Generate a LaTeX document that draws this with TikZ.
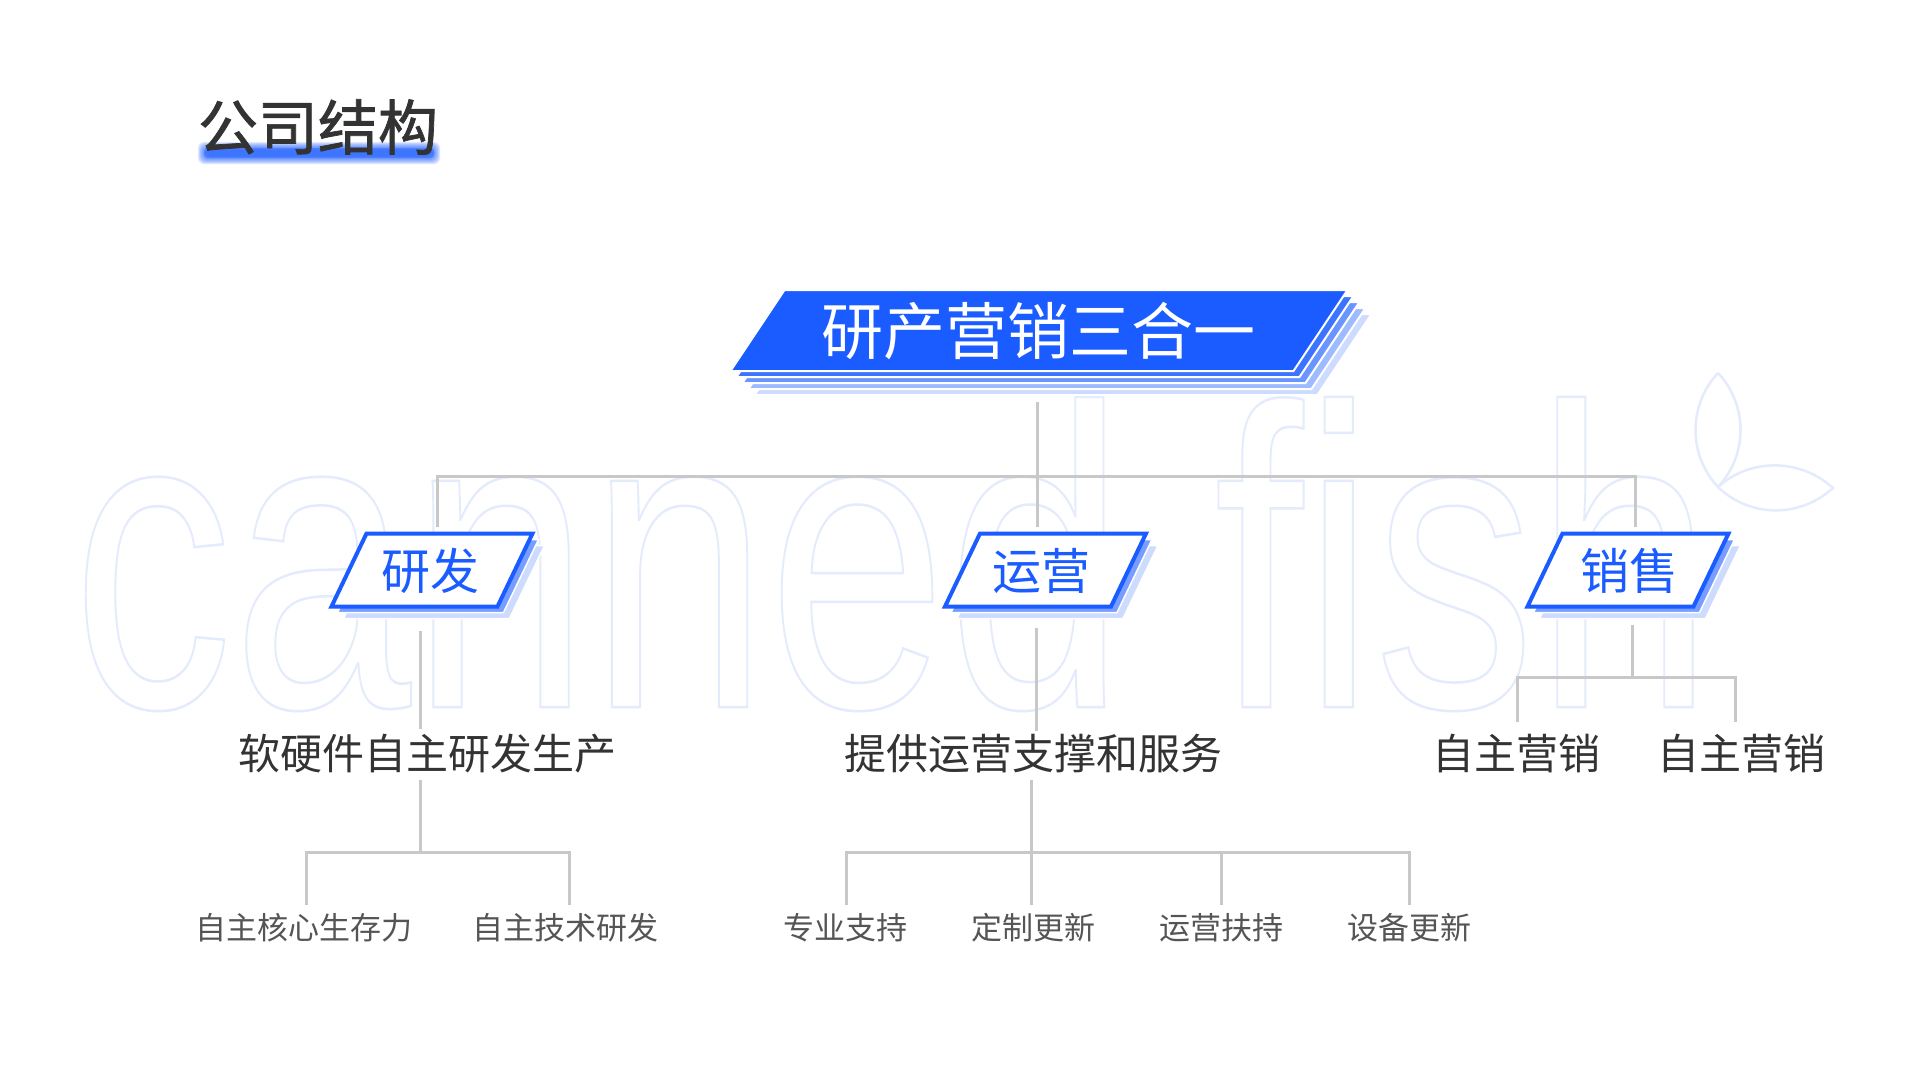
\documentclass[tikz,border=0pt]{standalone}
\usepackage{fontspec}
\newfontfamily\cjk{Noto Sans CJK SC}
\newfontfamily\cjkb[FakeBold=1.2]{Noto Sans CJK SC}
\newfontfamily\wmfont{Liberation Sans}
\usetikzlibrary{calc}
\definecolor{mainblue}{HTML}{1A5CFF}
\definecolor{txt}{HTML}{333333}
\definecolor{txtl}{HTML}{555555}
\definecolor{conncol}{HTML}{C8C8C8}
\definecolor{wmcol}{HTML}{E4EBFC}
\tikzset{
  conn/.style={draw=conncol, line width=3pt, line join=miter},
  lvtwo/.style={font=\cjk\fontsize{42}{50}\selectfont, text=txt, inner sep=0pt},
  lvthree/.style={font=\cjk\fontsize{31}{37}\selectfont, text=txtl, inner sep=0pt},
  lvone/.style={font=\cjk\fontsize{49}{56}\selectfont, text=mainblue, inner sep=0pt},
  pics/pgram/.style n args={3}{code={
    \path[pic actions] (-#1+#3,-#2) -- (#1+#3,-#2) -- (#1-#3,#2) -- (-#1-#3,#2) -- cycle;
  }},
}
\begin{document}
\begin{tikzpicture}[x=1pt,y=-1pt]
\useasboundingbox (0,0) rectangle (1920,1080);
\fill[white] (0,0) rectangle (1920,1080);
% watermark
\begin{scope}[shift={(72,707)}, xscale=0.75]
\node[transform shape, anchor=base west, inner sep=0pt, font=\wmfont\fontsize{428}{428}\selectfont, text=wmcol] (wmk) at (0,0) {\special{pdf:literal direct 1 Tr 2.5 w}canned fish\special{pdf:literal direct 0 Tr}};
\end{scope}
\draw[wmcol, line width=2.5pt] (1718,373) .. controls (1688,405) and (1688,455) .. (1718,487) .. controls (1748,455) and (1748,405) .. (1718,373);
\draw[wmcol, line width=2.5pt] (1718,487) .. controls (1750,458) and (1800,458) .. (1833,488) .. controls (1800,518) and (1750,518) .. (1718,487);
% title glow
\foreach \i in {0,...,8} {
  \fill[mainblue, opacity=0.14, rounded corners=6pt] ({206-\i},{150-\i}) rectangle ({432+\i},{156+\i});
}
\fill[mainblue, opacity=0.35, rounded corners=3pt] (204,148) rectangle (434,158);
\node[font=\cjkb\fontsize{60}{70}\selectfont, text=txt, inner sep=0pt] (title) at (318,127) {公司结构};
% connectors
\coordinate (bS) at (1037,402);
\coordinate (hL) at (437,476);
\coordinate (hR) at (1635,476);
\coordinate (rdN) at (437,527);
\coordinate (yyN) at (1037,527);
\coordinate (xsN) at (1635,527);
\draw[conn] (bS) -- (yyN);
\draw[conn] (rdN) -- (hL) -- (hR) -- (xsN);
% yanfa branch
\coordinate (rdS) at (420,631);
\coordinate (t1N) at (420,729);
\coordinate (t1S) at (420,780);
\coordinate (j1) at (420,852);
\coordinate (u1N) at (306,905);
\coordinate (u2N) at (569,905);
\draw[conn] (rdS) -- (t1N);
\draw[conn] (t1S) -- (j1);
\draw[conn] (u1N) -- (306,852) -- (569,852) -- (u2N);
% yunying branch
\coordinate (yyS) at (1036,628);
\coordinate (t2N) at (1036,731);
\coordinate (t2S) at (1031,780);
\coordinate (v1N) at (846,905);
\coordinate (v2N) at (1031,905);
\coordinate (v3N) at (1221,905);
\coordinate (v4N) at (1409,905);
\draw[conn] (yyS) -- (t2N);
\draw[conn] (t2S) -- (v2N);
\draw[conn] (v1N) -- (846,852) -- (1409,852) -- (v4N);
\draw[conn] (1221,852) -- (v3N);
% xiaoshou branch
\coordinate (xsS) at (1632,625);
\coordinate (j3) at (1632,677);
\coordinate (t3aN) at (1517,722);
\coordinate (t3bN) at (1735,722);
\draw[conn] (xsS) -- (j3);
\draw[conn] (t3aN) -- (1517,677) -- (1735,677) -- (t3bN);
% banner
\foreach \k/\c in {4/22, 3/42, 2/65, 1/85} {
  \pic[fill=mainblue!\c!white, draw=white, line width=2pt] at ({1039+6*\k},{330.5+6*\k}) {pgram={281.5}{40.5}{27}};
}
\pic[fill=mainblue, draw=white, line width=2pt] at (1039,330.5) {pgram={281.5}{40.5}{27}};
\node[font=\cjk\fontsize{62}{70}\selectfont, text=white, inner sep=0pt] (banner) at (1038,331) {研产营销三合一};
% level one nodes
\foreach \cx/\nm in {432/rdshape, 1045.5/yyshape, 1628/xsshape} {
  \pic[fill=mainblue!22!white, draw=white, line width=1.5pt] at ({\cx+12},{570+12}) {pgram={83}{36.5}{17.5}};
  \pic[fill=mainblue!60!white, draw=white, line width=1.5pt] at ({\cx+6},{570+6}) {pgram={83}{36.5}{17.5}};
  \pic[fill=white, draw=mainblue, line width=4pt] at (\cx,570) {pgram={83}{36.5}{17.5}};
}
\node[lvone] (rd) at (430,571) {研发};
\node[lvone] (yy) at (1041,571) {运营};
\node[lvone] (xs) at (1629,571) {销售};
% level two
\node[lvtwo] (t1) at (427,754) {软硬件自主研发生产};
\node[lvtwo] (t2) at (1033,754) {提供运营支撑和服务};
\node[lvtwo] (t3a) at (1516,754) {自主营销};
\node[lvtwo] (t3b) at (1741,754) {自主营销};
% level three
\node[lvthree] (u1) at (304,928) {自主核心生存力};
\node[lvthree] (u2) at (565,928) {自主技术研发};
\node[lvthree] (v1) at (845,928) {专业支持};
\node[lvthree] (v2) at (1033,928) {定制更新};
\node[lvthree] (v3) at (1221,928) {运营扶持};
\node[lvthree] (v4) at (1409,928) {设备更新};
\end{tikzpicture}
\end{document}
